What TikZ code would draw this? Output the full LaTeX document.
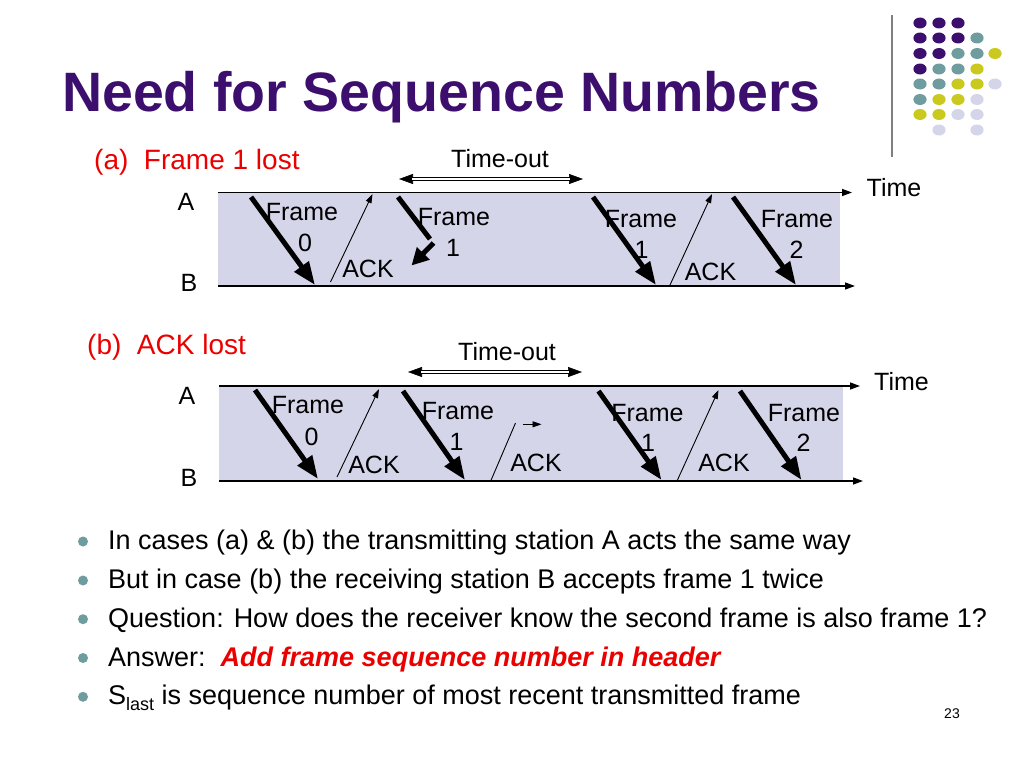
\documentclass[tikz,border=0pt]{standalone}
\usepackage{fontspec}
\setmainfont{Liberation Sans}
\usetikzlibrary{arrows.meta}
\definecolor{titlepurple}{RGB}{60,15,110}
\definecolor{dotteal}{RGB}{110,156,159}
\definecolor{dotyellow}{RGB}{201,201,30}
\definecolor{dotlav}{RGB}{213,213,234}
\definecolor{bandcol}{RGB}{213,213,234}
\definecolor{slidered}{RGB}{235,0,0}
\definecolor{rulegray}{RGB}{128,128,128}
\begin{document}
\begin{tikzpicture}[x=1pt,y=-1pt,
  txt/.style={inner sep=0pt, anchor=base, font=\fontsize{25}{30}\selectfont},
  frm/.style={line width=5pt, -{Triangle[length=23pt,width=17pt]}},
  ackarr/.style={line width=0.9pt, -{Triangle[length=9pt,width=6pt]}},
  ackline/.style={line width=0.9pt},
  axisline/.style={line width=1.3pt, -{Triangle[length=10pt,width=7pt]}},
  tothin/.style={line width=0.6pt, {Triangle[length=14pt,width=10pt]}-{Triangle[length=14pt,width=10pt]}},
  todouble/.style={line width=1pt, double=white, double distance=2pt, shorten <=13pt, shorten >=13pt},
  bul/.style={inner sep=0pt, anchor=base west, font=\fontsize{27}{32}\selectfont},
  bdot/.style={fill=dotteal, draw=none},
  captxt/.style={inner sep=0pt, anchor=base west, text=slidered, font=\fontsize{28}{32}\selectfont}]
\useasboundingbox (0,0) rectangle (1024,768);
\fill[white] (0,0) rectangle (1024,768);

% decoration top right
\draw[rulegray, line width=1.5pt] (892,15) -- (892,157);
\def\dotat#1#2#3{\fill[#3] (#1,#2) ellipse [x radius=6.6, y radius=5.5];}
\dotat{920}{23}{titlepurple}\dotat{939}{23}{titlepurple}\dotat{958}{23}{titlepurple}
\dotat{920}{38}{titlepurple}\dotat{939}{38}{titlepurple}\dotat{958}{38}{titlepurple}\dotat{977}{38}{dotteal}
\dotat{920}{53.5}{titlepurple}\dotat{939}{53.5}{titlepurple}\dotat{958}{53.5}{dotteal}\dotat{977}{53.5}{dotteal}\dotat{995}{53.5}{dotyellow}
\dotat{920}{69}{titlepurple}\dotat{939}{69}{dotteal}\dotat{958}{69}{dotteal}\dotat{977}{69}{dotyellow}
\dotat{920}{84}{dotteal}\dotat{939}{84}{dotteal}\dotat{958}{84}{dotyellow}\dotat{977}{84}{dotyellow}\dotat{995}{84}{dotlav}
\dotat{920}{99.5}{dotteal}\dotat{939}{99.5}{dotyellow}\dotat{958}{99.5}{dotyellow}\dotat{977}{99.5}{dotlav}
\dotat{920}{114.5}{dotyellow}\dotat{939}{114.5}{dotyellow}\dotat{958}{114.5}{dotlav}\dotat{977}{114.5}{dotlav}
\dotat{939}{130}{dotlav}\dotat{977}{130}{dotlav}

% title
\node[inner sep=0pt, anchor=base west, text=titlepurple, font=\fontsize{55.5}{60}\selectfont\bfseries] (title) at (62,111) {Need for Sequence Numbers};

% ===== (a) =====
\node[captxt] (capa) at (94,169) {(a)\ \ Frame 1 lost};
\fill[bandcol] (218,193) rectangle (840,286);
\coordinate (aA0) at (218,192.5); \coordinate (aA1) at (852,192.5);
\coordinate (aB0) at (218,286);   \coordinate (aB1) at (855,286);
\draw[axisline] (aA0) -- (aA1);
\draw[axisline] (aB0) -- (aB1);
\node[txt] (aTO) at (500,167) {Time-out};
\coordinate (aTOl) at (399,179); \coordinate (aTOr) at (583,179);
\draw[tothin] (aTOl) -- (aTOr);
\draw[todouble] (aTOl) -- (aTOr);
\node[txt] (aTime) at (894,196) {Time};
\node[txt] (aA) at (186,210) {A};
\node[txt] (aB) at (189,291.5) {B};
% frame 0
\coordinate (af0s) at (251,197); \coordinate (af0e) at (315,285);
\draw[frm] (af0s) -- (af0e);
\node[txt] (af0l) at (302,220) {Frame};
\node[txt] (af0n) at (305,251) {0};
% ack
\coordinate (aa1s) at (330.5,282); \coordinate (aa1e) at (372.5,194);
\draw[ackarr] (aa1s) -- (aa1e);
\node[txt] (aa1l) at (368,277) {ACK};
% frame 1 lost
\coordinate (af1s) at (398,197); \coordinate (af1m) at (430,239);
\coordinate (af1k) at (433.5,243); \coordinate (af1e) at (411.5,265.5);
\draw[line width=5pt] (af1s) -- (af1m);
\draw[line width=5pt, -{Triangle[length=17pt,width=17pt]}] (af1k) -- (af1e);
\node[txt] (af1l) at (454,225) {Frame};
\node[txt] (af1n) at (453,256.5) {1};
% frame 1 retransmitted
\coordinate (af2s) at (593,197); \coordinate (af2e) at (656,285);
\draw[frm] (af2s) -- (af2e);
\node[txt] (af2l) at (641,227) {Frame};
\node[txt] (af2n) at (641.5,258.5) {1};
% ack
\coordinate (aa2s) at (670,285); \coordinate (aa2e) at (712,194);
\draw[ackarr] (aa2s) -- (aa2e);
\node[txt] (aa2l) at (710.5,280) {ACK};
% frame 2
\coordinate (af3s) at (733,197); \coordinate (af3e) at (796,285);
\draw[frm] (af3s) -- (af3e);
\node[txt] (af3l) at (797,227) {Frame};
\node[txt] (af3n) at (796.5,258) {2};

% ===== (b) =====
\node[captxt] (capb) at (87,354) {(b)\ \ ACK lost};
\fill[bandcol] (219,386) rectangle (843,481);
\coordinate (bA0) at (219,386); \coordinate (bA1) at (860,386);
\coordinate (bB0) at (219,481); \coordinate (bB1) at (863,481);
\draw[axisline] (bA0) -- (bA1);
\draw[axisline] (bB0) -- (bB1);
\node[txt] (bTO) at (507,360) {Time-out};
\coordinate (bTOl) at (408,372); \coordinate (bTOr) at (582,372);
\draw[tothin] (bTOl) -- (bTOr);
\draw[todouble] (bTOl) -- (bTOr);
\node[txt] (bTime) at (901.5,390) {Time};
\node[txt] (bA) at (187,404) {A};
\node[txt] (bB) at (189,486.5) {B};
% frame 0
\coordinate (bf0s) at (255,390); \coordinate (bf0e) at (318,479);
\draw[frm] (bf0s) -- (bf0e);
\node[txt] (bf0l) at (308,413) {Frame};
\node[txt] (bf0n) at (311.5,445) {0};
% ack
\coordinate (ba1s) at (337,477); \coordinate (ba1e) at (379,389);
\draw[ackarr] (ba1s) -- (ba1e);
\node[txt] (ba1l) at (374,473) {ACK};
% frame 1
\coordinate (bf1s) at (403,391); \coordinate (bf1e) at (465,480);
\draw[frm] (bf1s) -- (bf1e);
\node[txt] (bf1l) at (458,419) {Frame};
\node[txt] (bf1n) at (456.5,450) {1};
% ack lost
\coordinate (ba2s) at (490.5,481.5); \coordinate (ba2e) at (515.5,423);
\draw[ackline] (ba2s) -- (ba2e);
\coordinate (ba2k) at (523,424.3); \coordinate (ba2t) at (541.5,424.3);
\draw[ackarr] (ba2k) -- (ba2t);
\node[txt] (ba2l) at (536,471.5) {ACK};
% frame 1 retransmitted
\coordinate (bf2s) at (598.5,391); \coordinate (bf2e) at (661.5,480);
\draw[frm] (bf2s) -- (bf2e);
\node[txt] (bf2l) at (647.5,421.5) {Frame};
\node[txt] (bf2n) at (648,451.5) {1};
% ack
\coordinate (ba3s) at (677,481); \coordinate (ba3e) at (718.5,390);
\draw[ackarr] (ba3s) -- (ba3e);
\node[txt] (ba3l) at (724,471.5) {ACK};
% frame 2
\coordinate (bf3s) at (740,391); \coordinate (bf3e) at (801.5,480);
\draw[frm] (bf3s) -- (bf3e);
\node[txt] (bf3l) at (804,421.5) {Frame};
\node[txt] (bf3n) at (803.5,451.5) {2};

% ===== bullets =====
\fill[bdot] (83,541.5) circle (5);
\node[bul] (t1) at (108,549.5) {In cases (a) \& (b) the transmitting station A acts the same way};
\fill[bdot] (83,580.5) circle (5);
\node[bul] (t2) at (108,588.5) {But in case (b) the receiving station B accepts frame 1 twice};
\fill[bdot] (83,619.2) circle (5);
\node[bul] (t3) at (108,627.2) {Question: How does the receiver know the second frame is also frame 1?};
\fill[bdot] (83,658) circle (5);
\node[bul] (t4) at (108,666) {Answer:\ \ {\color{slidered}\bfseries\itshape Add frame sequence number in header}};
\fill[bdot] (83,696.8) circle (5);
\node[bul] (t5) at (108,704.8) {S\raisebox{-6pt}{\fontsize{18}{20}\selectfont last} is sequence number of most recent transmitted frame};

\node[inner sep=0pt, anchor=base, font=\fontsize{14}{16}\selectfont] (pg) at (952,718) {23};
\end{tikzpicture}
\end{document}
